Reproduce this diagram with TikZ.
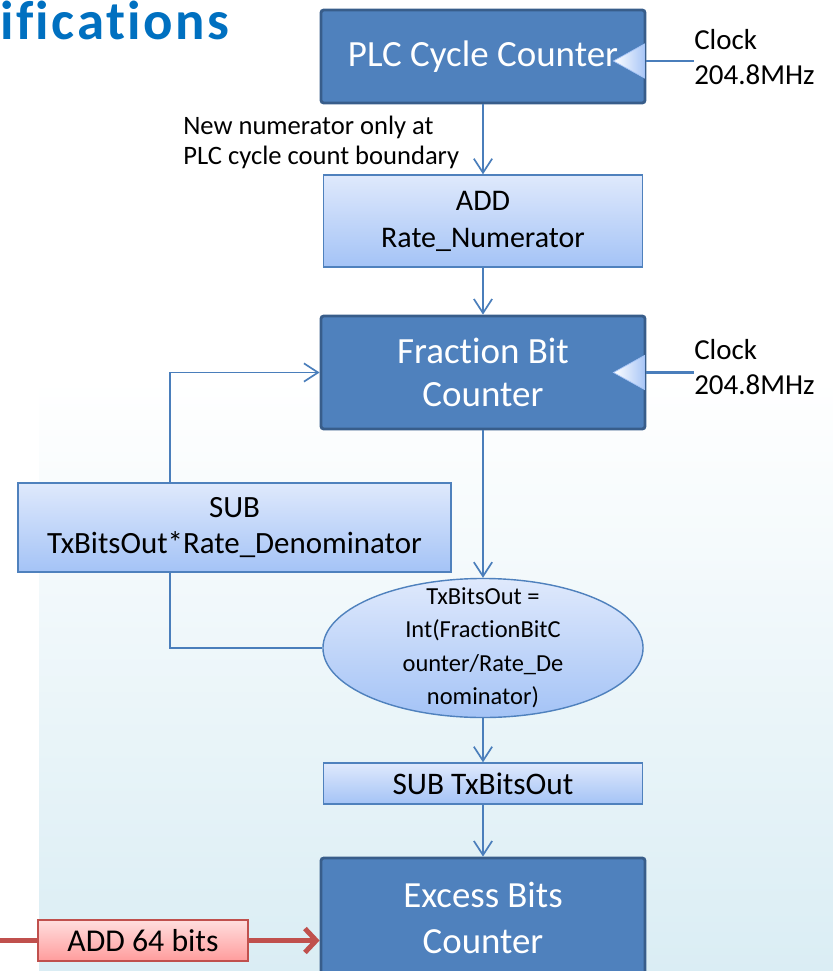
\documentclass[tikz,border=0pt]{standalone}
\usepackage{fontspec}
\setmainfont{Carlito}[Ligatures=NoCommon]
\usetikzlibrary{shapes.geometric,arrows.meta}

\definecolor{boxblue}{RGB}{79,129,189}
\definecolor{boxedge}{RGB}{56,93,138}
\definecolor{wireblue}{RGB}{74,126,187}
\definecolor{paletop}{RGB}{223,233,252}
\definecolor{palebot}{RGB}{164,195,246}
\definecolor{wirered}{RGB}{192,80,77}
\definecolor{pinktop}{RGB}{255,222,222}
\definecolor{pinkbot}{RGB}{255,156,156}
\definecolor{titleblue}{RGB}{0,112,192}
\definecolor{washbot}{RGB}{218,237,244}

\newcommand{\fsz}[2]{\fontsize{#1}{#2}\selectfont}

\begin{document}
\begin{tikzpicture}[x=0.025cm,y=-0.025cm,
  counter/.style={draw=boxedge,line width=2pt,fill=boxblue,text=white,rounded corners=2pt,
    inner sep=0pt,minimum width=8.1cm,align=center,font=\fsz{26.3}{30.6}},
  opbox/.style={draw=boxblue,line width=1pt,top color=paletop,bottom color=palebot,
    inner sep=0pt,align=center},
  addbox/.style={draw=wirered,line width=1.5pt,top color=pinktop,bottom color=pinkbot,
    inner sep=0pt,align=center},
  flow/.style={wireblue,line width=1.2pt,-{Straight Barb[length=10pt,width=13pt]}},
  clockwire/.style={wireblue,line width=2pt},
  clocktip/.style={draw=palebot,line width=0.5pt,left color=white,right color=palebot},
  redwire/.style={wirered,line width=3.5pt}]

\useasboundingbox (0,0) rectangle (833,971);
% background wash
\shade[top color=white,bottom color=washbot] (39,380) rectangle (833,971);

\node[anchor=base west,inner sep=0pt,text=titleblue,
  font=\fsz{39}{44}\bfseries\addfontfeature{LetterSpace=4.5}] (title) at (0,39.5) {ifications};

% counters and operations
\node[counter,minimum height=2.325cm] (plc) at (483,56.5) {PLC Cycle Counter};
\node[opbox,minimum width=7.975cm,minimum height=2.3cm,font=\fsz{21.3}{26.3}] (addnum) at (483,221) {ADD\\Rate\_Numerator};
\node[counter,minimum height=2.825cm] (fbc) at (483,372.5) {Fraction Bit\\Counter};
\node[opbox,minimum width=10.825cm,minimum height=2.225cm,font=\fsz{22}{25.6}] (subden) at (234.5,527.5) {SUB\\TxBitsOut*Rate\_Denominator};
\node[opbox,ellipse,minimum width=8cm,minimum height=3.475cm] (divide) at (483,648) {};
\node[inner sep=0pt,align=center,font=\fsz{17.4}{23.8}] (dividetext) at (divide) {TxBitsOut =\\Int(FractionBitC\\ounter/Rate\_De\\nominator)};
\node[opbox,minimum width=7.975cm,minimum height=1.025cm,font=\fsz{22.3}{26}] (subtx) at (483,783.5) {SUB TxBitsOut};
\node[counter,minimum height=3cm,font=\fsz{26.2}{32.7}] (ebc) at (483,918) {Excess Bits\\Counter};
\node[addbox,minimum width=5.25cm,minimum height=1.025cm,font=\fsz{22.6}{26}] (add64) at (143,940.5) {ADD 64 bits};

% labels
\node[anchor=west,inner sep=0pt,align=left,font=\fsz{20.6}{24.9}] (clka) at (694,57.5) {Clock\\204.8MHz};
\node[anchor=west,inner sep=0pt,align=left,font=\fsz{20.6}{24.9}] (clkb) at (694,367.5) {Clock\\204.8MHz};
\node[anchor=west,inner sep=0pt,align=left,font=\fsz{18.9}{21.3}] (note) at (183,142) {New numerator only at\\PLC cycle count boundary};

% clock inputs
\draw[clockwire] ([yshift=-3.2pt]plc.east) -- ([yshift=-3.2pt]plc.east -| clka.west);
\path[clocktip] ([yshift=-3.2pt]plc.east) ++(-2,-17) -- ++(0,34) -- ++(-31,-17) -- cycle;
\draw[clockwire] (fbc.east) -- (fbc.east -| clkb.west);
\path[clocktip] (fbc.east) ++(-2,-17) -- ++(0,34) -- ++(-31,-17) -- cycle;

% main flow
\draw[flow] (plc) -- (addnum);
\draw[flow] (addnum) -- (fbc);
\draw[flow] (fbc) -- (divide);
\draw[flow] (divide) -- (subtx);
\draw[flow] (subtx) -- (ebc);

% feedback loop
\draw[flow] ([xshift=-1.6125cm]subden.north) |- (fbc.west);
\draw[wireblue,line width=1.2pt] ([xshift=-1.6125cm]subden.south) |- (divide.west);

% 64 bit input
\coordinate (redin) at (0,940.5);
\draw[redwire] (redin) -- (add64);
\draw[redwire,-{Straight Barb[length=8pt,width=17pt]}] (add64) -- (add64 -| ebc.west);
\end{tikzpicture}
\end{document}
